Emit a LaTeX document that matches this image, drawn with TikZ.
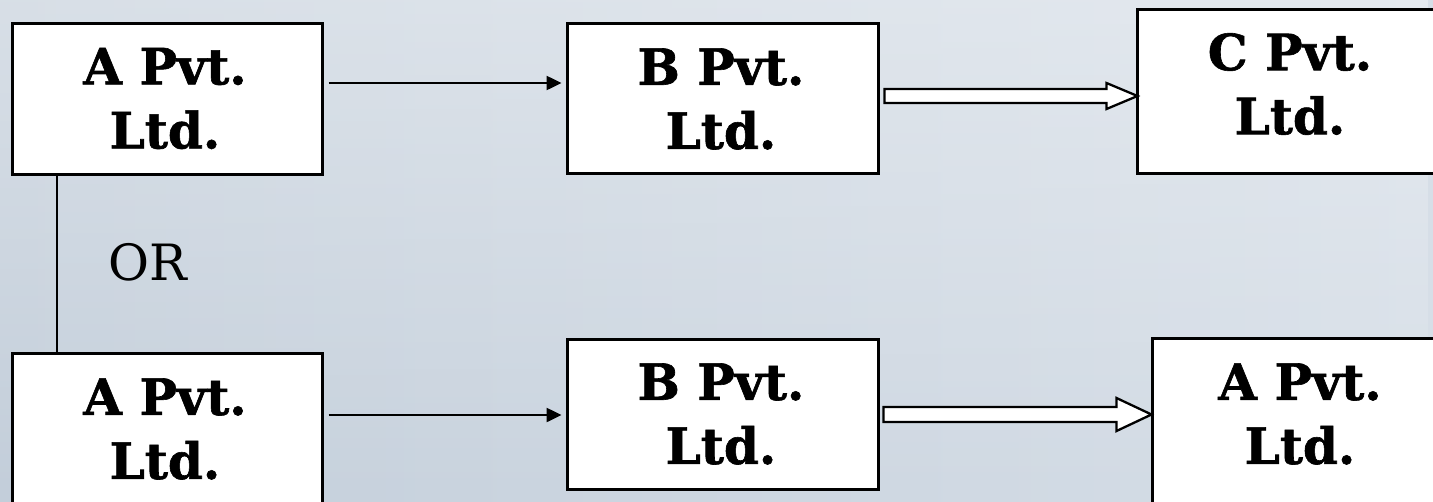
\documentclass[tikz,border=0pt]{standalone}
\usepackage{fontspec}
\newfontfamily\boxfont{DejaVu Serif}
\newfontfamily\boxfontbold[FakeBold=1.2]{DejaVu Serif Bold}
\usetikzlibrary{arrows.meta,calc,fadings}
\definecolor{bgleft}{HTML}{C3CEDA}
\definecolor{bgmid}{HTML}{EEF1F6}
\definecolor{bgright}{HTML}{D6DEE7}
\tikzset{
  firm/.style={draw=black, line width=3pt, fill=white, inner sep=0pt},
  firmtext/.style={align=center, inner sep=0pt, font=\boxfontbold\fontsize{50}{64}\selectfont},
  thinarrow/.style={draw=black, line width=2.5pt, -{Triangle[length=15pt,width=14pt]}},
  hollowarrow/.style={draw=black, line width=2.3pt, fill=white, line join=miter},
  plainline/.style={draw=black, line width=2.5pt}
}
\begin{document}
\begin{tikzpicture}[x=1pt,y=-1pt]
\useasboundingbox (0,0) rectangle (1433,501);
\clip (0,0) rectangle (1433,501);
\shade[left color=bgleft, middle color=bgmid, right color=bgright] (0,0) rectangle (1433,501);
\fill[white, opacity=0.35, path fading=south] (0,0) rectangle (1433,501);

% boxes
\node[firm, minimum width=310pt, minimum height=151pt] (a1) at (167,98.5) {};
\node[firm, minimum width=311pt, minimum height=150pt] (b1) at (722.5,98) {};
\node[firm, minimum width=307pt, minimum height=164pt] (c1) at (1290.5,91) {};
\node[firm, minimum width=310pt, minimum height=167pt] (a2) at (167,436.5) {};
\node[firm, minimum width=311pt, minimum height=150pt] (b2) at (722.5,414) {};
\node[firm, minimum width=296pt, minimum height=182pt] (a3) at (1300,429) {};

% texts
\node[firmtext] (ta1) at (165,98.5) {A Pvt.\\Ltd.};
\node[firmtext] (tb1) at (721,99) {B Pvt.\\Ltd.};
\node[firmtext] (tc1) at (1290,84) {C Pvt.\\Ltd.};
\node[firmtext] (ta2) at (165,429) {A Pvt.\\Ltd.};
\node[firmtext] (tb2) at (721,414) {B Pvt.\\Ltd.};
\node[firmtext] (ta3) at (1300,414) {A Pvt.\\Ltd.};

\node[inner sep=0pt, font=\boxfont\fontsize{50}{56}\selectfont] (or) at (148,262) {OR};

% connectors
\draw[plainline] ([xshift=-110pt]a1.south) -- ([xshift=-110pt]a2.north);
\draw[thinarrow, shorten <=5pt, shorten >=4pt] ([yshift=15.5pt]a1.east) -- ([yshift=15pt]b1.west);
\draw[thinarrow, shorten <=5pt, shorten >=4pt] ([yshift=21.5pt]a2.east) -- ([yshift=-1pt]b2.west);

\path (b1.east) ++(5pt,2pt) coordinate (s1);
\draw[hollowarrow] (s1) ++(0,7pt) -- ++(222pt,0) -- ++(0,6pt) -- ++(31pt,-13pt) -- ++(-31pt,-13pt) -- ++(0,6pt) -- ++(-222pt,0) -- cycle;
\path (b2.east) ++(4pt,-0.5pt) coordinate (s2);
\draw[hollowarrow] (s2) ++(0,7.5pt) -- ++(233pt,0) -- ++(0,9pt) -- ++(35pt,-16.5pt) -- ++(-35pt,-16.5pt) -- ++(0,9pt) -- ++(-233pt,0) -- cycle;
\end{tikzpicture}
\end{document}
